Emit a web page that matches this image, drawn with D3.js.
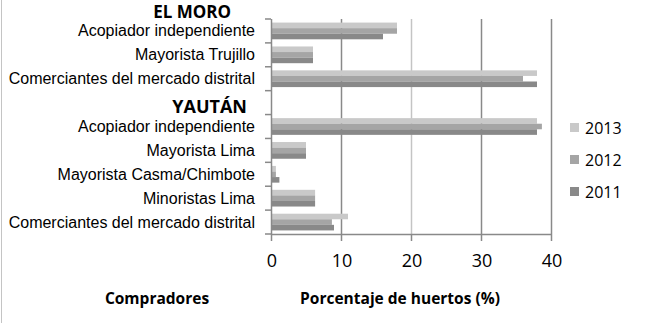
<!DOCTYPE html>
<html>
<head>
<meta charset="utf-8">
<script src="https://cdn.jsdelivr.net/npm/d3@7"></script>
<style>
    body { margin: 0; background: #fff; }
    svg { display: block; }
</style>
</head>
<body>
<div id="chart"></div>
<script>
var WIDTH = 664;
var HEIGHT = 323;

// Buyer categories, top to bottom. The empty slot holds the YAUTÁN heading.
var categories = [
    'Acopiador independiente',
    'Mayorista Trujillo',
    'Comerciantes del mercado distrital',
    'YAUTÁN',
    'Acopiador independiente',
    'Mayorista Lima',
    'Mayorista Casma/Chimbote',
    'Minoristas Lima',
    'Comerciantes del mercado distrital'
];
var headings = ['EL MORO', 'YAUTÁN'];
var years = ['2013', '2012', '2011'];
var values2013 = [18, 6, 38, null, 38, 5, 0.7, 6.3, 11];
var values2012 = [18, 6, 36, null, 38.7, 5, 0.7, 6.3, 8.7];
var values2011 = [16, 6, 38, null, 38, 5, 1.2, 6.3, 9];
var xTicks = [0, 10, 20, 30, 40];

var COLORS = { '2013': '#c9c9c9', '2012': '#a5a5a5', '2011': '#898989' };
var AXIS_COLOR = '#898989';
var LABEL_FONT = '"Liberation Sans", Arial, sans-serif';
var NUM_FONT = '"Open Sans", "Noto Sans", sans-serif';

var seriesByYear = { '2013': values2013, '2012': values2012, '2011': values2011 };

var rows = categories.map(function(name, i) {
    return {
        id: i,
        name: name,
        heading: headings.indexOf(name) >= 0,
        values: years.map(function(yr) { return { year: yr, val: seriesByYear[yr][i] }; })
    };
});

var vis = d3.select('#chart')
    .append('svg')
    .attr('width', WIDTH)
    .attr('height', HEIGHT);

// Outer chart border (only the left side shows in the source)
vis.append('line')
    .attr('x1', 1.5).attr('x2', 1.5)
    .attr('y1', 0).attr('y2', HEIGHT)
    .style('stroke', '#c4c4c4');

var x = d3.scaleLinear().domain([0, 40]).range([271, 551]);
var y = d3.scaleBand()
    .domain(rows.map(function(d) { return d.id; }))
    .range([19, 234])
    .paddingInner(0.3)
    .paddingOuter(0.15);
var yInner = d3.scaleBand().domain(years).range([0, y.bandwidth()]);

var step = y.step();
var plotTop = y.range()[0];
var plotBottom = y.range()[1];

// Gridlines
vis.append('g').classed('grid', true)
    .selectAll('line')
    .data(xTicks.filter(function(t) { return t > 0; }))
    .enter()
    .append('line')
        .attr('x1', function(d) { return x(d) + 0.5; })
        .attr('x2', function(d) { return x(d) + 0.5; })
        .attr('y1', plotTop)
        .attr('y2', plotBottom)
        .style('stroke', function(d) { return d === 20 ? '#c4c4c4' : AXIS_COLOR; })
        .style('stroke-width', 1.5);

// Bars
var groups = vis.append('g').classed('bars', true)
    .selectAll('g.row')
    .data(rows)
    .enter()
    .append('g').classed('row', true)
    .attr('transform', function(d) { return 'translate(0,' + y(d.id) + ')'; });

groups.selectAll('rect')
    .data(function(d) { return d.values.filter(function(v) { return v.val !== null; }); })
    .enter()
    .append('rect')
        .attr('x', x(0))
        .attr('y', function(d) { return yInner(d.year); })
        .attr('width', function(d) { return x(d.val) - x(0); })
        .attr('height', yInner.bandwidth())
        .style('fill', function(d) { return COLORS[d.year]; });

// Vertical axis with ticks between the categories
var yAxis = vis.append('g').classed('y_axis', true);
yAxis.append('line')
    .attr('x1', x(0) + 0.5).attr('x2', x(0) + 0.5)
    .attr('y1', plotTop).attr('y2', plotBottom)
    .style('stroke', AXIS_COLOR).style('stroke-width', 1.5);
yAxis.selectAll('line.tick')
    .data(d3.range(categories.length + 1))
    .enter()
    .append('line').classed('tick', true)
        .attr('x1', x(0) - 6).attr('x2', x(0))
        .attr('y1', function(i) { return plotTop + i * step; })
        .attr('y2', function(i) { return plotTop + i * step; })
        .style('stroke', AXIS_COLOR).style('stroke-width', 1.5);

// Category labels
yAxis.selectAll('text.cat')
    .data(rows)
    .enter()
    .append('text').classed('cat', true)
        .attr('x', function(d) { return d.heading ? 247 : 255; })
        .attr('y', function(d) { return y(d.id) + y.bandwidth() / 2 + (d.heading ? 10 : 5.5); })
        .attr('text-anchor', 'end')
        .style('font-family', function(d) { return d.heading ? NUM_FONT : LABEL_FONT; })
        .style('font-weight', function(d) { return d.heading ? 'bold' : 'normal'; })
        .style('font-size', function(d) { return d.heading ? '18px' : '16px'; })
        .style('fill', '#000')
        .text(function(d) { return d.name; });

// Group heading above the plot
vis.append('text')
    .attr('x', 231)
    .attr('y', plotTop - 1)
    .attr('text-anchor', 'end')
    .style('font-family', NUM_FONT)
    .style('font-weight', 'bold')
    .style('font-size', '17px')
    .text(headings[0]);

// Horizontal axis
var xAxis = vis.append('g').classed('x_axis', true);
xAxis.append('line')
    .attr('x1', x(0)).attr('x2', x(40) + 1)
    .attr('y1', plotBottom + 0.5).attr('y2', plotBottom + 0.5)
    .style('stroke', AXIS_COLOR).style('stroke-width', 1.5);
xAxis.selectAll('line.tick')
    .data(xTicks)
    .enter()
    .append('line').classed('tick', true)
        .attr('x1', function(d) { return x(d) + 0.5; })
        .attr('x2', function(d) { return x(d) + 0.5; })
        .attr('y1', plotBottom).attr('y2', plotBottom + 7)
        .style('stroke', AXIS_COLOR).style('stroke-width', 1.5);
xAxis.selectAll('text')
    .data(xTicks)
    .enter()
    .append('text')
        .attr('x', function(d) { return x(d) + 1; })
        .attr('y', 267)
        .attr('text-anchor', 'middle')
        .style('font-family', NUM_FONT)
        .style('font-size', '18px')
        .style('fill', '#000')
        .text(function(d) { return d; });

// Axis titles
vis.append('text')
    .attr('x', 157).attr('y', 304)
    .attr('text-anchor', 'middle')
    .style('font-family', NUM_FONT)
    .style('font-weight', 'bold')
    .style('font-size', '15.5px')
    .text('Compradores');
vis.append('text')
    .attr('x', 400).attr('y', 304)
    .attr('text-anchor', 'middle')
    .style('font-family', NUM_FONT)
    .style('font-weight', 'bold')
    .style('font-size', '15.5px')
    .text('Porcentaje de huertos (%)');

// Legend
var legend = vis.append('g').classed('legend', true)
    .selectAll('g')
    .data(years)
    .enter()
    .append('g')
    .attr('transform', function(d, i) { return 'translate(570,' + (123 + i * 32) + ')'; });
legend.append('rect')
    .attr('width', 9).attr('height', 9)
    .style('fill', function(d) { return COLORS[d]; });
legend.append('text')
    .attr('x', 15).attr('y', 11)
    .style('font-family', NUM_FONT)
    .style('font-size', '16px')
    .style('fill', '#000')
    .text(function(d) { return d; });
</script>
</body>
</html>
